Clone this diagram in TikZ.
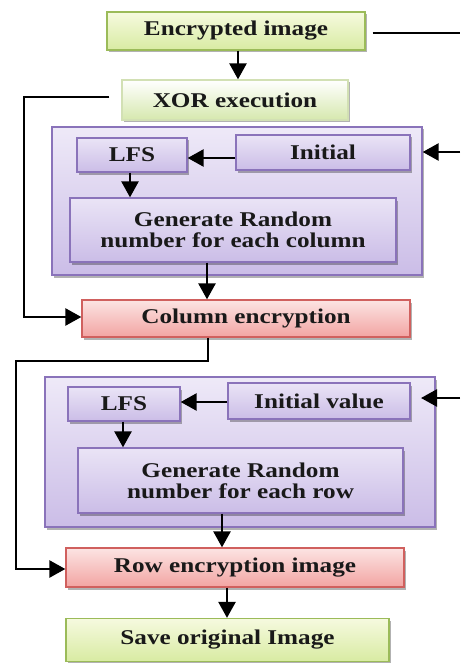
\documentclass[tikz,border=0pt]{standalone}
\usepackage{fontspec}
\setmainfont{Liberation Serif}[FakeStretch=1.2]
\usetikzlibrary{arrows.meta,shadows}
\definecolor{grnline}{HTML}{9BBB59}
\definecolor{grntop}{HTML}{F6FADF}
\definecolor{grnbot}{HTML}{D8EBA2}
\definecolor{xortop}{HTML}{FFFFFF}
\definecolor{xorbot}{HTML}{D6E8AE}
\definecolor{purline}{HTML}{8A73BA}
\definecolor{purtop}{HTML}{EAE4F6}
\definecolor{purbot}{HTML}{CBBDE7}
\definecolor{redline}{HTML}{D0605E}
\definecolor{redtop}{HTML}{FCE4E3}
\definecolor{redbot}{HTML}{F2A4A2}
\begin{document}
\begin{tikzpicture}[x=1pt,y=-1pt,
  box/.style={rectangle, draw, line width=1.3pt, inner sep=0pt, align=center,
    font=\fontsize{21}{21}\selectfont\bfseries, text=black!90,
    drop shadow={shadow xshift=1.5pt, shadow yshift=-2.5pt, fill=black, opacity=0.3}},
  greenbox/.style={box, draw=grnline, top color=grntop, bottom color=grnbot},
  xorbox/.style={box, draw=grnline!45, top color=xortop, bottom color=xorbot},
  purbox/.style={box, draw=purline, top color=purtop, bottom color=purbot},
  groupbox/.style={box, draw=purline, top color=purtop!80!white, bottom color=purbot},
  redbox/.style={box, draw=redline, top color=redtop, bottom color=redbot},
  flow/.style={line width=2.6pt, -{Triangle[length=16pt,width=17pt]}},
  link/.style={line width=2.4pt},
]
\useasboundingbox (0,0) rectangle (460,663);

% outer groups
\node[groupbox, minimum width=370pt, minimum height=148pt] (grpA) at (237,201) {};
\node[groupbox, minimum width=390pt, minimum height=150pt] (grpB) at (240,452) {};

% main chain
\node[greenbox, minimum width=258pt, minimum height=38pt] (enc) at (236,31) {Encrypted image};
\node[xorbox, minimum width=226pt, minimum height=40pt] (xor) at (235,100) {XOR execution};

% column key generation
\node[purbox, minimum width=110pt, minimum height=34pt] (lfsA) at (132,155) {LFS};
\node[purbox, minimum width=174pt, minimum height=35pt] (iniA) at (323,152.5) {Initial};
\node[purbox, minimum width=326pt, minimum height=64pt] (genA) at (233,230) {Generate Random\\number for each column};

\node[redbox, minimum width=328pt, minimum height=37pt] (col) at (246,318.5) {Column encryption};

% row key generation
\node[purbox, minimum width=112pt, minimum height=34pt] (lfsB) at (124,404) {LFS};
\node[purbox, minimum width=182pt, minimum height=36pt] (iniB) at (319,401) {Initial value};
\node[purbox, minimum width=325pt, minimum height=65pt] (genB) at (240.5,480.5) {Generate Random\\number for each row};

\node[redbox, minimum width=338pt, minimum height=39pt] (row) at (235,567.5) {Row encryption image};
\node[greenbox, minimum width=323pt, minimum height=43pt] (save) at (227.5,640) {Save original Image};

% free ends at the right margin
\coordinate (encOut) at (460,33);
\coordinate (inA) at (460,152);
\coordinate (inB) at (460,398);
\coordinate (tipB) at (421,398);

% connectors
\draw[link] ([xshift=7pt]enc.east |- encOut) -- (encOut);
\draw[flow] (enc.south -| 238,0) -- (xor.north -| 238,0);
\draw[flow] ([xshift=-12pt]xor.west |- 0,97) -- (24,97) -- (24,317) -- (col.west |- 0,317);

\draw[flow] (iniA.west |- 0,158) -- (lfsA.east |- 0,158);
\draw[flow] (lfsA.south -| 130,0) -- (genA.north -| 130,0);
\draw[flow] (inA) -- (grpA.east |- inA);
\draw[flow] (genA.south -| 207,0) -- (col.north -| 207,0);

\draw[flow] (col.south -| 208,0) -- (208,361) -- (16,361) -- (16,569) -- (row.west |- 0,569);

\draw[flow] (iniB.west |- 0,402) -- (lfsB.east |- 0,402);
\draw[flow] (lfsB.south -| 123,0) -- (genB.north -| 123,0);
\draw[flow] (inB) -- (tipB);
\draw[flow] (genB.south -| 222,0) -- (row.north -| 222,0);
\draw[flow] (row.south -| 227,0) -- (save.north -| 227,0);
\end{tikzpicture}
\end{document}
